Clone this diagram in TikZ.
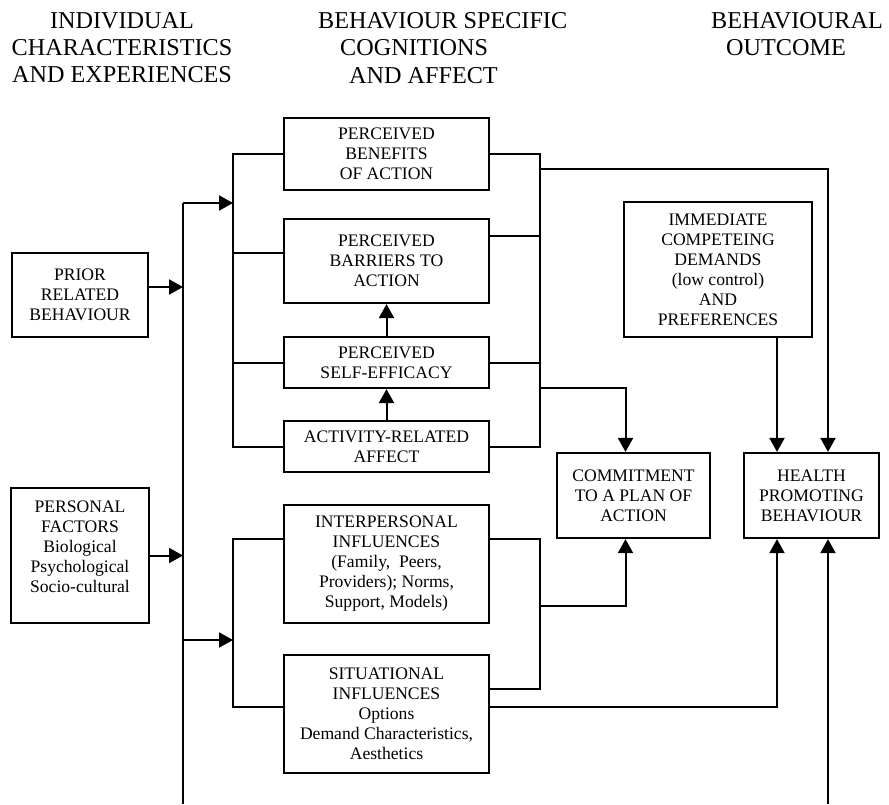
\documentclass[tikz,border=0pt]{standalone}
\usepackage{fontspec}
\setmainfont{Liberation Serif}
\usetikzlibrary{arrows.meta}
\begin{document}
\begin{tikzpicture}[x=1pt,y=-1pt,
  boxstyle/.style={draw,line width=2.2pt,inner sep=0pt,align=center,
    font=\fontsize{17.6}{20}\selectfont},
  txtstyle/.style={inner sep=0pt,align=center,font=\fontsize{17.6}{20}\selectfont},
  headstyle/.style={inner sep=0pt,font=\fontsize{24.2}{27}\selectfont},
  ln/.style={line width=2pt},
  arr/.style={line width=2pt,-{Triangle[length=14pt,width=15pt]}}]
\useasboundingbox (0,0) rectangle (889,804);
% headings
\node[headstyle,anchor=base] (h1a) at (122,28) {INDIVIDUAL};
\node[headstyle,anchor=base] (h1b) at (122,55) {CHARACTERISTICS};
\node[headstyle,anchor=base] (h1c) at (122,82) {AND EXPERIENCES};
\node[headstyle,anchor=base west] (h2a) at (318,28) {BEHAVIOUR SPECIFIC};
\node[headstyle,anchor=base west] (h2b) at (340,55) {COGNITIONS};
\node[headstyle,anchor=base west] (h2c) at (349,83) {AND AFFECT};
\node[headstyle,anchor=base] (h3a) at (797,28) {BEHAVIOURAL};
\node[headstyle,anchor=base] (h3b) at (786,55) {OUTCOME};
% left column
\node[boxstyle,minimum width=136pt,minimum height=84pt] (pr) at (80,295) {PRIOR\\RELATED\\BEHAVIOUR};
\node[boxstyle,minimum width=138pt,minimum height=135pt] (pf) at (80,555.5) {};
\node[txtstyle] (pft) at (80,547) {PERSONAL\\FACTORS\\Biological\\Psychological\\Socio-cultural};
% middle column
\node[boxstyle,minimum width=205pt,minimum height=72pt] (b1) at (386.5,154) {PERCEIVED\\BENEFITS\\OF ACTION};
\node[boxstyle,minimum width=205pt,minimum height=84pt] (b2) at (386.5,261) {PERCEIVED\\BARRIERS TO\\ACTION};
\node[boxstyle,minimum width=205pt,minimum height=51pt] (b3) at (386.5,362.5) {PERCEIVED\\SELF-EFFICACY};
\node[boxstyle,minimum width=205pt,minimum height=51pt] (b4) at (386.5,446.5) {ACTIVITY-RELATED\\AFFECT};
\node[boxstyle,minimum width=205pt,minimum height=118pt] (ip) at (386.5,564) {INTERPERSONAL\\INFLUENCES\\(Family,\ \ Peers,\\Providers); Norms,\\Support, Models)};
\node[boxstyle,minimum width=205pt,minimum height=118pt] (si) at (386.5,714) {SITUATIONAL\\INFLUENCES\\Options\\Demand Characteristics,\\Aesthetics};
% right columns
\node[boxstyle,minimum width=188pt,minimum height=135pt] (im) at (718,269.5) {IMMEDIATE\\COMPETEING\\DEMANDS\\(low control)\\AND\\PREFERENCES};
\node[boxstyle,minimum width=153pt,minimum height=85pt] (cm) at (633.5,495.5) {COMMITMENT\\TO A PLAN OF\\ACTION};
\node[boxstyle,minimum width=135pt,minimum height=85pt] (hp) at (811.5,495.5) {HEALTH\\PROMOTING\\BEHAVIOUR};
% reference coordinates
\coordinate (bus) at (183,0);
\coordinate (lb) at (233,0);
\coordinate (rb) at (540,0);
\coordinate (busTop) at (183,203);
\coordinate (busBot) at (183,804);
\coordinate (busC) at (183,640);
\coordinate (rbA) at (540,169);
\coordinate (rbB) at (540,388);
\coordinate (rbC) at (540,606);
\coordinate (hpIn) at (828,804);
\coordinate (prR) at ([yshift=8pt]pr.east);
\coordinate (b2l) at ([yshift=8pt]b2.west);
\coordinate (b2r) at ([yshift=25pt]b2.east);
\coordinate (ipl) at ([yshift=25pt]ip.west);
\coordinate (ipr) at ([yshift=25pt]ip.east);
\coordinate (sil) at ([yshift=7pt]si.west);
\coordinate (sir) at ([yshift=25pt]si.east);
\coordinate (siout) at ([yshift=7pt]si.east);
\coordinate (cmT) at ([xshift=-8pt]cm.north);
\coordinate (cmB) at ([xshift=-8pt]cm.south);
\coordinate (hpTL) at ([xshift=-34.5pt]hp.north);
\coordinate (hpTR) at ([xshift=16.5pt]hp.north);
\coordinate (hpBL) at ([xshift=-34.5pt]hp.south);
\coordinate (hpBR) at ([xshift=16.5pt]hp.south);
\coordinate (imB) at ([xshift=59pt]im.south);
% main bus
\draw[ln] (busBot) -- (busTop);
\draw[arr] (prR) -- (prR -| bus);
\draw[arr] (pf.east) -- (pf.east -| bus);
\draw[arr] (busTop) -- (busTop -| lb);
\draw[arr] (busC) -- (busC -| lb);
% upper group
\draw[ln] (b1.west) -| (b4.west -| lb) -- (b4.west);
\draw[ln] (b2l) -- (b2l -| lb);
\draw[ln] (b3.west) -- (b3.west -| lb);
\draw[ln] (b1.east) -| (b4.east -| rb) -- (b4.east);
\draw[ln] (b2r) -- (b2r -| rb);
\draw[ln] (b3.east) -- (b3.east -| rb);
\draw[arr] (b4.north) -- (b3.south);
\draw[arr] (b3.north) -- (b2.south);
\draw[arr] (rbA) -| (hpTR);
\draw[arr] (rbB) -| (cmT);
\draw[arr] (imB) -- (hpTL);
% lower group
\draw[ln] (ipl) -| (sil -| lb) -- (sil);
\draw[ln] (ipr) -| (sir -| rb) -- (sir);
\draw[arr] (rbC) -| (cmB);
\draw[arr] (siout) -| (hpBL);
\draw[arr] (hpIn) -- (hpBR);
\end{tikzpicture}
\end{document}
